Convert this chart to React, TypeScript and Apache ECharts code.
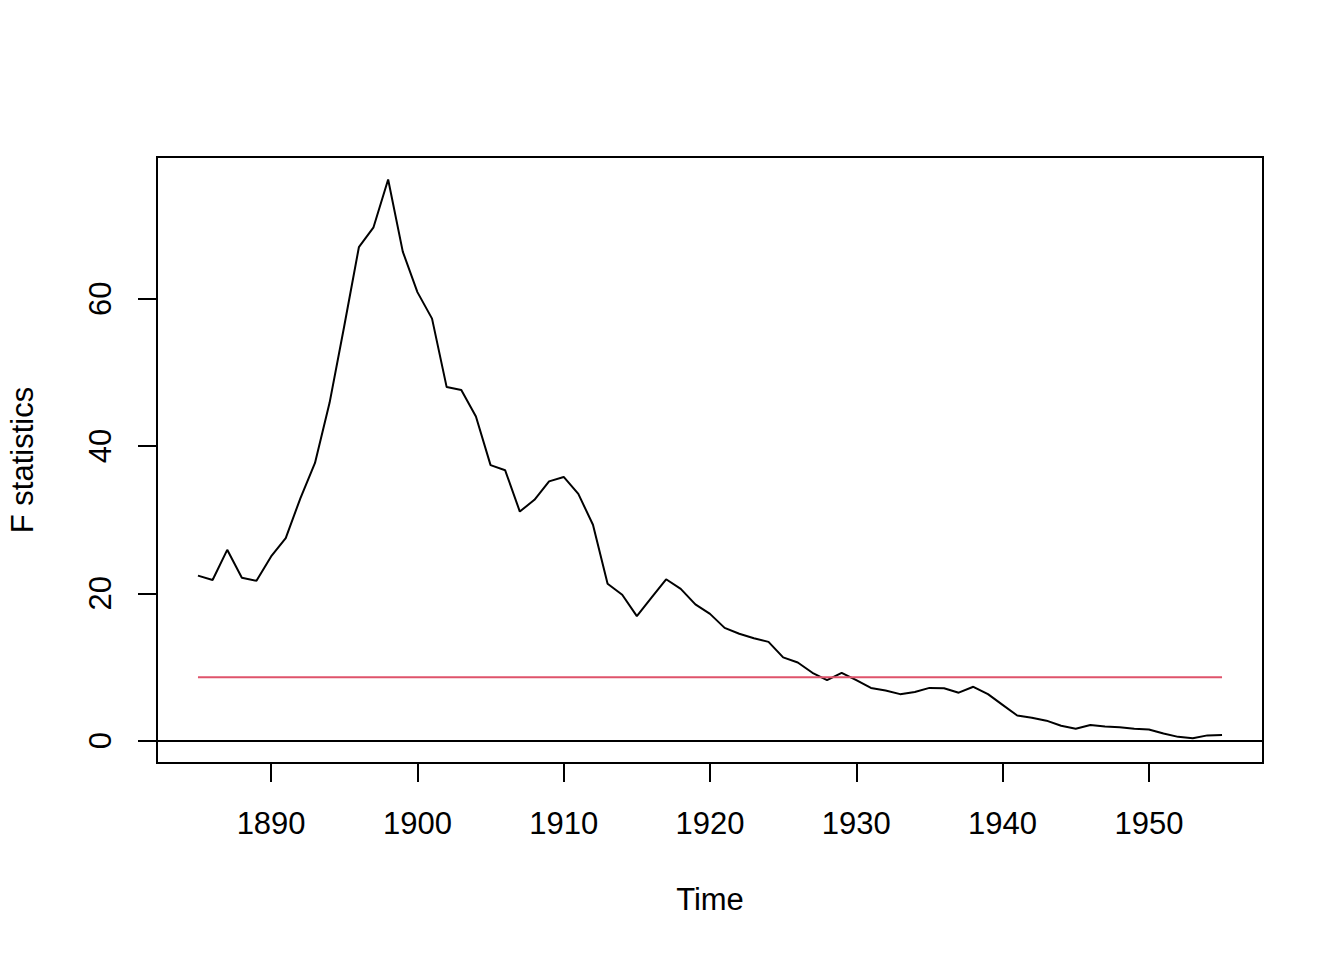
import React, { useEffect, useRef } from "react";
import * as echarts from "echarts";

const years = [
  1885, 1886, 1887, 1888, 1889, 1890, 1891, 1892, 1893, 1894,
  1895, 1896, 1897, 1898, 1899, 1900, 1901, 1902, 1903, 1904,
  1905, 1906, 1907, 1908, 1909, 1910, 1911, 1912, 1913, 1914,
  1915, 1916, 1917, 1918, 1919, 1920, 1921, 1922, 1923, 1924,
  1925, 1926, 1927, 1928, 1929, 1930, 1931, 1932, 1933, 1934,
  1935, 1936, 1937, 1938, 1939, 1940, 1941, 1942, 1943, 1944,
  1945, 1946, 1947, 1948, 1949, 1950, 1951, 1952, 1953, 1954,
  1955,
];

const fStats = [
  22.4, 21.8, 25.9, 22.1, 21.7, 25.0, 27.5, 32.9, 37.7, 45.9,
  56.3, 67.0, 69.7, 76.2, 66.4, 60.9, 57.3, 48.0, 47.6, 44.0,
  37.4, 36.7, 31.1, 32.7, 35.2, 35.8, 33.5, 29.3, 21.3, 19.8,
  16.9, 19.4, 21.9, 20.6, 18.5, 17.2, 15.3, 14.5, 13.9, 13.4,
  11.3, 10.6, 9.2, 8.2, 9.2, 8.2, 7.15, 6.8, 6.3, 6.6,
  7.15, 7.1, 6.5, 7.3, 6.3, 4.85, 3.4, 3.1, 2.7, 2.0,
  1.6, 2.1, 1.9, 1.8, 1.6, 1.5, 0.95, 0.5, 0.3, 0.7,
  0.75,
];

const criticalValue = 8.6;
const xTicks = [1890, 1900, 1910, 1920, 1930, 1940, 1950];
const yTicks = [0, 20, 40, 60];
const xRange = [1882.2, 1957.8];
const yRange = [-3.05, 79.25];

const FONT = "'Liberation Sans', Arial, Helvetica, sans-serif";
const FS = 31;

export default function App() {
  const ref = useRef<HTMLDivElement>(null);

  useEffect(() => {
    if (!ref.current) return;
    const chart = echarts.init(ref.current, null, { renderer: "svg" });
    const lineData = years.map((y, i) => [y, fStats[i]]);
    const critData = [
      [years[0], criticalValue],
      [years[years.length - 1], criticalValue],
    ];
    chart.setOption({
      animation: false,
      backgroundColor: "#ffffff",
      textStyle: { fontFamily: FONT },
      grid: {
        left: 157,
        top: 157,
        right: 81,
        bottom: 197,
        show: true,
        borderColor: "#000000",
        borderWidth: 2,
        backgroundColor: "transparent",
        containLabel: false,
        outerBoundsMode: "none",
      },
      xAxis: {
        type: "value",
        min: xRange[0],
        max: xRange[1],
        name: "Time",
        nameLocation: "middle",
        nameGap: 121,
        nameTextStyle: { color: "#000", fontSize: FS, fontFamily: FONT },
        axisLine: { show: false, onZero: false },
        splitLine: { show: false },
        axisTick: {
          show: true,
          inside: false,
          length: 19,
          customValues: xTicks,
          lineStyle: { color: "#000", width: 2 },
        },
        axisLabel: {
          show: true,
          customValues: xTicks,
          margin: 45,
          color: "#000",
          fontSize: FS,
          fontFamily: FONT,
          formatter: (v: number) => String(v),
        },
      },
      yAxis: {
        type: "value",
        min: yRange[0],
        max: yRange[1],
        name: "F statistics",
        nameLocation: "middle",
        nameGap: 119,
        nameTextStyle: { color: "#000", fontSize: FS, fontFamily: FONT },
        axisLine: { show: false, onZero: false },
        splitLine: { show: false },
        axisTick: {
          show: true,
          inside: false,
          length: 19,
          customValues: yTicks,
          lineStyle: { color: "#000", width: 2 },
        },
        axisLabel: {
          show: true,
          customValues: yTicks,
          rotate: 90,
          margin: 41,
          color: "#000",
          fontSize: FS,
          fontFamily: FONT,
          formatter: (v: number) => String(v),
        },
      },
      series: [
        {
          type: "line",
          name: "F statistics",
          data: lineData,
          showSymbol: false,
          symbol: "none",
          lineStyle: { color: "#000000", width: 2 },
          itemStyle: { color: "#000000" },
          silent: true,
          markLine: {
            silent: true,
            symbol: "none",
            label: { show: false },
            lineStyle: { color: "#000000", width: 2, type: "solid" },
            data: [{ yAxis: 0 }],
          },
        },
        {
          type: "line",
          name: "critical value",
          data: critData,
          showSymbol: false,
          symbol: "none",
          lineStyle: { color: "#DF536B", width: 2 },
          itemStyle: { color: "#DF536B" },
          silent: true,
        },
      ],
    });
    return () => chart.dispose();
  }, []);

  return (
    <div
      ref={ref}
      style={{
        position: "absolute",
        left: 0,
        top: 0,
        width: 1344,
        height: 960,
        background: "#ffffff",
      }}
    />
  );
}
